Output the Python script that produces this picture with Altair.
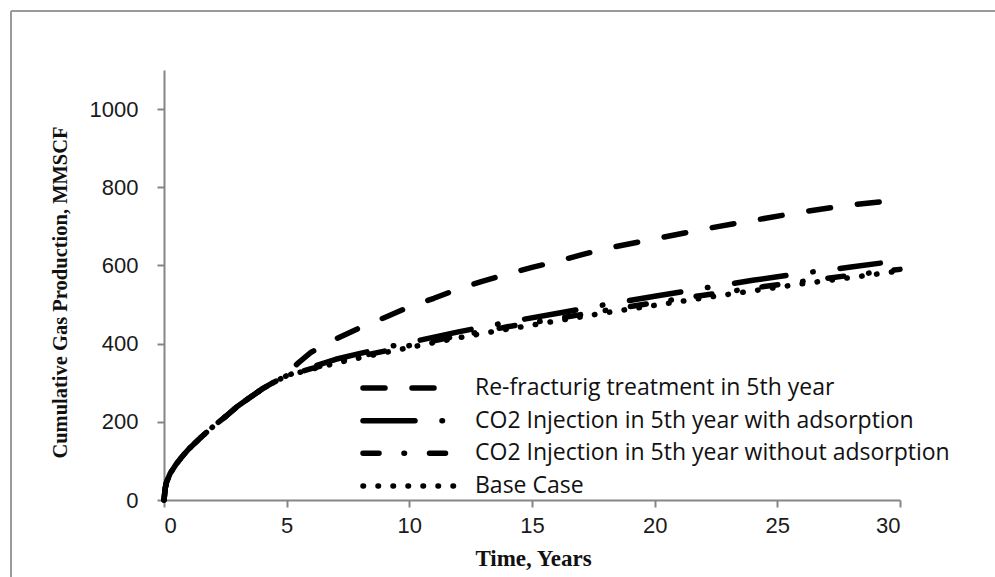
import altair as alt
import pandas as pd

# Shared early-production curve (years, MMSCF) before any treatment at year 5
early_t = [0, 0.05, 0.1, 0.25, 0.5, 0.75, 1, 1.5, 2, 2.5, 3, 3.5, 4, 4.5, 5]
early_q = [0, 30, 45, 68, 92, 112, 130, 160, 188, 213, 240, 262, 284, 302, 318]

# Re-fracturing at year 5
refrac_t = [5.2, 5.5, 6, 7, 8, 9, 10, 11, 12, 13, 14, 15, 16, 17, 18, 20, 22, 24, 26, 28, 30]
refrac_q = [335, 352, 378, 412, 441, 467, 494, 516, 540, 560, 578, 595, 610, 627, 643, 668, 693, 715, 737, 755, 768]

# CO2 injection at year 5, with adsorption
co2_ads_t = [6, 7, 8, 9, 10, 12, 14, 16, 18, 20, 22, 24, 26, 28, 29.2]
co2_ads_q = [340, 360, 375, 390, 403, 430, 455, 477, 500, 521, 542, 562, 580, 596, 606]

# CO2 injection at year 5, without adsorption
co2_noads_t = [6, 7, 8, 9, 10, 12, 14, 16, 18, 20, 22, 24, 26, 28, 30]
co2_noads_q = [336, 353, 368, 381, 395, 420, 443, 464, 485, 505, 524, 542, 559, 575, 590]

# Base case, no treatment
base_t = [6, 7, 8, 9, 10, 12, 14, 16, 18, 20, 22, 24, 26, 28, 30]
base_q = [334, 350, 364, 377, 390, 415, 437, 458, 479, 498, 517, 535, 553, 569, 586]

series_names = [
    "Re-fracturig treatment in 5th year",
    "CO2 Injection in 5th year with adsorption",
    "CO2 Injection in 5th year without adsorption",
    "Base Case",
]
dash_styles = [[22, 27], [52, 27, 0.5, 27], [16, 25, 0.5, 25], [0.5, 14.5]]

rows = []
for name, ts, qs in zip(
    series_names,
    [refrac_t, co2_ads_t, co2_noads_t, base_t],
    [refrac_q, co2_ads_q, co2_noads_q, base_q],
):
    for t, q in zip(early_t + ts, early_q + qs):
        rows.append({"series": name, "time": t, "gas": q})
df = pd.DataFrame(rows)
legend_df = pd.DataFrame({"series": series_names})

dash_enc = alt.StrokeDash(
    "series:N",
    scale=alt.Scale(domain=series_names, range=dash_styles),
    legend=None,
)

lines = alt.Chart(df).mark_line(
    color="black", strokeWidth=5.5, strokeCap="round", strokeJoin="round", clip=False
).encode(
    x=alt.X(
        "time:Q",
        scale=alt.Scale(domain=[0, 30], nice=False, zero=True),
        axis=alt.Axis(
            values=[0, 5, 10, 15, 20, 25, 30],
            title="Time, Years",
            titleX=369, titleY=58, titleBaseline="middle",
        ),
    ),
    y=alt.Y(
        "gas:Q",
        scale=alt.Scale(domain=[0, 1100], nice=False),
        axis=alt.Axis(
            values=[0, 200, 400, 600, 800, 1000],
            format="d",
            title="Cumulative Gas Production, MMSCF",
            titleX=-104, titleY=222, titleBaseline="middle", titleAngle=-90,
            titleAlign="center",
        ),
    ),
    strokeDash=dash_enc,
    order=alt.Order("time:Q"),
)

# Hand-built legend: one sample stroke and one label per series
legend_y = alt.Y(
    "series:N",
    sort=series_names,
    axis=None,
    scale=alt.Scale(type="point", range=[318, 416], padding=0),
)
legend_lines = alt.Chart(legend_df).mark_rule(
    color="black", strokeWidth=5.5, strokeCap="round"
).encode(
    x=alt.value(199),
    x2=alt.value(291),
    y=legend_y,
    strokeDash=dash_enc,
)
legend_text = alt.Chart(legend_df).mark_text(
    align="left", baseline="middle", font="Open Sans", fontSize=23, color="#111111"
).encode(
    x=alt.value(311),
    y=legend_y,
    text="series:N",
)

# Figure frame along the top and left edges
frame_top = alt.Chart(legend_df).mark_rule(color="#9a9a9a", strokeWidth=2).encode(
    x=alt.value(-153), x2=alt.value(850), y=alt.value(-59)
)
frame_left = alt.Chart(legend_df).mark_rule(color="#9a9a9a", strokeWidth=2).encode(
    x=alt.value(-153), y=alt.value(-59), y2=alt.value(520)
)

chart = (
    alt.layer(frame_top, frame_left, lines, legend_lines, legend_text)
    .resolve_scale(y="independent")
    .properties(
        width=736,
        height=430,
        autosize=alt.AutoSizeParams(type="none"),
        padding={"left": 164, "top": 70, "right": 95, "bottom": 77},
        background="white",
    )
    .configure_view(stroke=None)
    .configure_axis(
        grid=False,
        domainColor="#868686",
        domainWidth=2,
        tickColor="#868686",
        tickWidth=2,
        tickSize=7,
        labelFont="Liberation Sans",
        labelFontSize=22,
        labelColor="#1a1a1a",
        titleFont="Liberation Serif",
        titleFontWeight="bold",
        titleColor="#111111",
    )
    .configure_axisY(labelPadding=19, titleFontSize=20.5)
    .configure_axisX(labelPadding=8, titleFontSize=23)
)

chart.save("out.html", embed_options={"renderer": "svg", "actions": False})
